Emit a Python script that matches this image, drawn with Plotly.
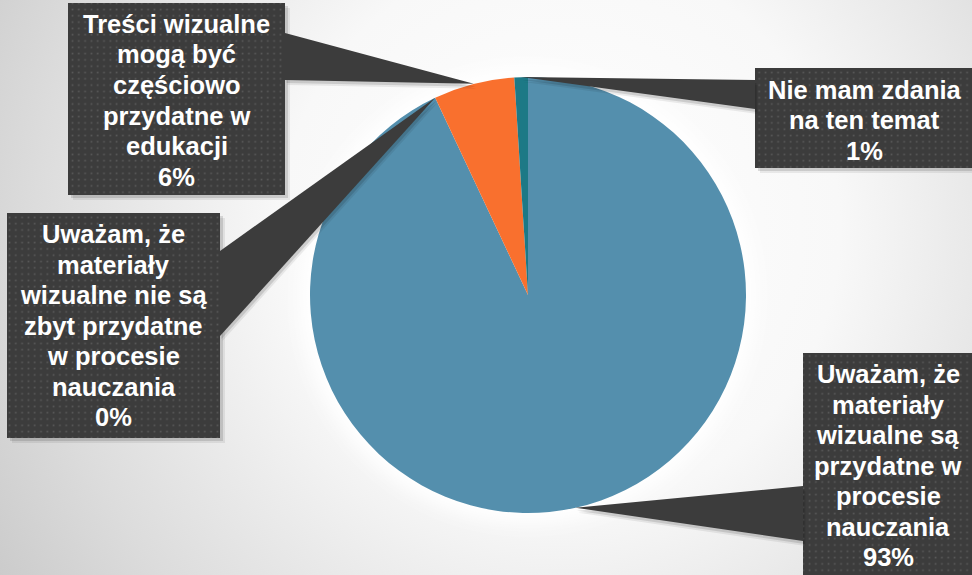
import base64
import math
import plotly.graph_objects as go

# ---- data -------------------------------------------------------------
categories = [
    "Uważam, że materiały wizualne są przydatne w procesie nauczania",
    "Uważam, że materiały wizualne nie są zbyt przydatne w procesie nauczania",
    "Treści wizualne mogą być częściowo przydatne w edukacji",
    "Nie mam zdania na ten temat",
]
shares = [93, 0, 6, 1]
label_lines = [
    ["Uważam, że", "materiały", "wizualne są", "przydatne w", "procesie", "nauczania"],
    ["Uważam, że", "materiały", "wizualne nie są", "zbyt przydatne", "w procesie", "nauczania"],
    ["Treści wizualne", "mogą być", "częściowo", "przydatne w", "edukacji"],
    ["Nie mam zdania", "na ten temat"],
]
slice_colors = ["#548FAD", "#2F6E95", "#F9702E", "#1D7986"]

# ---- layout geometry (pixels) -----------------------------------------
W, H = 972, 575
CX, CY, R = 528, 295, 218
BOX_FILL = "#3C3C3C"
LINE_GAP = 30.5
FONT = "Liberation Sans, Arial, sans-serif"

# callout boxes: (left, top, right, bottom), text centre x, first line y,
# and the edge segment the pointer wedge leaves from (x, y_top, y_bottom)
boxes = [
    dict(rect=(803, 353, 976, 580), tx=888, ty=374, base=(803, 486, 541)),
    dict(rect=(7, 213, 220, 438), tx=113.5, ty=234, base=(220, 251, 336)),
    dict(rect=(68, 3, 285, 195), tx=176.5, ty=24, base=(285, 33, 80)),
    dict(rect=(755, 68, 976, 168), tx=864.5, ty=90, base=(755, 80, 109)),
]


def px(x):
    return x / W


def py(y):
    return 1 - y / H


def svg_uri(body):
    doc = (f'<svg xmlns="http://www.w3.org/2000/svg" width="{W}" height="{H}" '
           f'viewBox="0 0 {W} {H}">{body}</svg>')
    return "data:image/svg+xml;base64," + base64.b64encode(doc.encode("utf-8")).decode("ascii")


# ---- callout geometry: wedge tips sit on the arc midpoint of each slice -
total = sum(shares)
callouts = []
cum = 0.0
for val, box in zip(shares, boxes):
    mid = (cum + val / 2) / total * 2 * math.pi
    cum += val
    tip = (CX + R * math.sin(mid), CY - R * math.cos(mid))
    bx, by0, by1 = box["base"]
    callouts.append(dict(tip=tip, wedge=[(bx, by0), tip, (bx, by1)], **box))

# ---- background: soft grey radial shading with a light halo round the pie
background = svg_uri(
    '<defs>'
    '<radialGradient id="g" cx="560" cy="230" r="700" gradientUnits="userSpaceOnUse">'
    '<stop offset="0" stop-color="#ffffff"/>'
    '<stop offset="0.4" stop-color="#f8f8f8"/>'
    '<stop offset="0.75" stop-color="#dcdcdc"/>'
    '<stop offset="1" stop-color="#c6c6c6"/>'
    '</radialGradient>'
    '<filter id="b" x="-50%" y="-50%" width="200%" height="200%">'
    '<feGaussianBlur stdDeviation="9"/></filter>'
    '</defs>'
    f'<rect width="{W}" height="{H}" fill="url(#g)"/>'
    f'<circle cx="{CX}" cy="{CY}" r="{R + 10}" fill="#ffffff" filter="url(#b)"/>'
)

# ---- fine dot texture laid over the dark callout boxes -------------------
clip_parts = []
for c in callouts:
    l, t, r, b = c["rect"]
    clip_parts.append(f'<rect x="{l}" y="{t}" width="{r - l}" height="{b - t}"/>')
texture = svg_uri(
    '<defs>'
    '<pattern id="d" width="6.3" height="6.3" patternUnits="userSpaceOnUse">'
    '<rect x="2.4" y="2.4" width="1.6" height="1.6" fill="#5A5A5A"/>'
    '</pattern>'
    f'<clipPath id="c">{"".join(clip_parts)}</clipPath>'
    '</defs>'
    f'<rect width="{W}" height="{H}" fill="url(#d)" clip-path="url(#c)"/>'
)

fig = go.Figure()
fig.add_trace(go.Pie(
    labels=categories,
    values=shares,
    sort=False,
    direction="clockwise",
    rotation=0,
    marker=dict(colors=slice_colors, line=dict(width=0)),
    textinfo="none",
    hoverinfo="label+percent",
    showlegend=False,
    domain=dict(x=[px(CX - R), px(CX + R)], y=[py(CY + R), py(CY - R)]),
))

shapes = []
annotations = []


def path_of(points, dx=0.0, dy=0.0):
    segs = [f"{px(x + dx)},{py(y + dy)}" for x, y in points]
    return "M" + " L".join(segs) + " Z"


for val, lines, c in zip(shares, label_lines, callouts):
    l, t, r, b = c["rect"]
    # soft drop shadows
    for off, alpha in ((5, 0.07), (3, 0.12)):
        shapes.append(dict(
            type="rect", xref="paper", yref="paper", layer="below",
            x0=px(l + off), x1=px(r + off), y0=py(t + off), y1=py(b + off),
            line=dict(width=0), fillcolor=f"rgba(0,0,0,{alpha})"))
        shapes.append(dict(
            type="path", xref="paper", yref="paper", layer="above",
            path=path_of(c["wedge"], off / 2, off),
            line=dict(width=0), fillcolor=f"rgba(0,0,0,{alpha})"))
    # pointer wedge sits on top of the pie, box sits under the dot texture
    shapes.append(dict(
        type="path", xref="paper", yref="paper", layer="above",
        path=path_of(c["wedge"]), line=dict(width=0), fillcolor=BOX_FILL))
    shapes.append(dict(
        type="rect", xref="paper", yref="paper", layer="below",
        x0=px(l), x1=px(r), y0=py(t), y1=py(b),
        line=dict(width=0), fillcolor=BOX_FILL))

    text_rows = lines + [f"{round(val / total * 100)}%"]
    for i, row in enumerate(text_rows):
        annotations.append(dict(
            xref="paper", yref="paper", x=px(c["tx"]), y=py(c["ty"] + i * LINE_GAP),
            xanchor="center", yanchor="middle", showarrow=False, text=f"<b>{row}</b>",
            font=dict(family=FONT, size=25.5, color="#FFFFFF")))

fig.update_layout(
    width=W, height=H,
    margin=dict(l=0, r=0, t=0, b=0),
    paper_bgcolor="#E6E6E6",
    plot_bgcolor="rgba(0,0,0,0)",
    images=[
        dict(source=background, xref="paper", yref="paper", x=0, y=1,
             sizex=1, sizey=1, xanchor="left", yanchor="top",
             sizing="stretch", layer="below"),
        dict(source=texture, xref="paper", yref="paper", x=0, y=1,
             sizex=1, sizey=1, xanchor="left", yanchor="top",
             sizing="stretch", layer="above"),
    ],
    shapes=shapes,
    annotations=annotations,
)

fig.write_html("out.html")
